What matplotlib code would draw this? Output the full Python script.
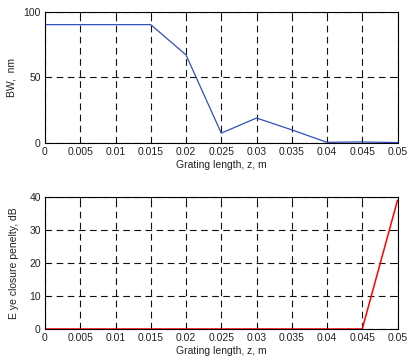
import matplotlib
matplotlib.use("Agg")
import matplotlib.pyplot as plt
import numpy as np

plt.rcParams['font.family'] = ['Liberation Sans', 'DejaVu Sans']

z = [0, 0.005, 0.01, 0.015, 0.02, 0.025, 0.03, 0.035, 0.04, 0.045, 0.05]
bw = [90, 90, 90, 90, 67, 7.5, 19, 10, 0.5, 0.8, 0.3]
ecp = [0, 0, 0, 0, 0, 0, 0, 0, 0, 0, 39]
xticks = [0, 0.005, 0.01, 0.015, 0.02, 0.025, 0.03, 0.035, 0.04, 0.045, 0.05]
xticklabels = ['0', '0.005', '0.01', '0.015', '0.02', '0.025', '0.03', '0.035', '0.04', '0.045', '0.05']

fig = plt.figure(figsize=(4.07, 3.63), dpi=100)
ax1 = fig.add_axes([45/407, 1-143/363, 352.5/407, 131.5/363])
ax2 = fig.add_axes([45/407, 1-329/363, 352.5/407, 132/363])

fs = 7.5
tc = '#222222'

def style(ax, yticks):
    ax.set_xlim(0, 0.05)
    ax.set_xticks(xticks)
    ax.set_xticklabels(xticklabels, fontsize=fs, color=tc)
    ax.set_yticks(yticks)
    ax.set_yticklabels([str(t) for t in yticks], fontsize=fs, color=tc)
    ax.grid(True, color='#111111', linestyle=(0, (6, 4)), linewidth=0.8)
    ax.tick_params(direction='in', top=True, right=True, length=3, width=0.6, pad=3)
    for s in ax.spines.values():
        s.set_linewidth(0.8)
    ax.set_xlabel('Grating length, z, m', fontsize=fs, labelpad=2, color=tc)

ax1.plot(z, bw, color='#3050b8', linewidth=0.9)
ax1.set_ylim(0, 100)
style(ax1, [0, 50, 100])
ax1.set_ylabel('BW,  nm', fontsize=fs, labelpad=5, color=tc)

ax2.plot(z, ecp, color='#ff0000', linewidth=1.1)
ax2.set_ylim(0, 40)
style(ax2, [0, 10, 20, 30, 40])
ax2.set_ylabel('E ye closure penelty, dB', fontsize=fs, labelpad=7, color=tc)

fig.savefig('out.png', dpi=100)
